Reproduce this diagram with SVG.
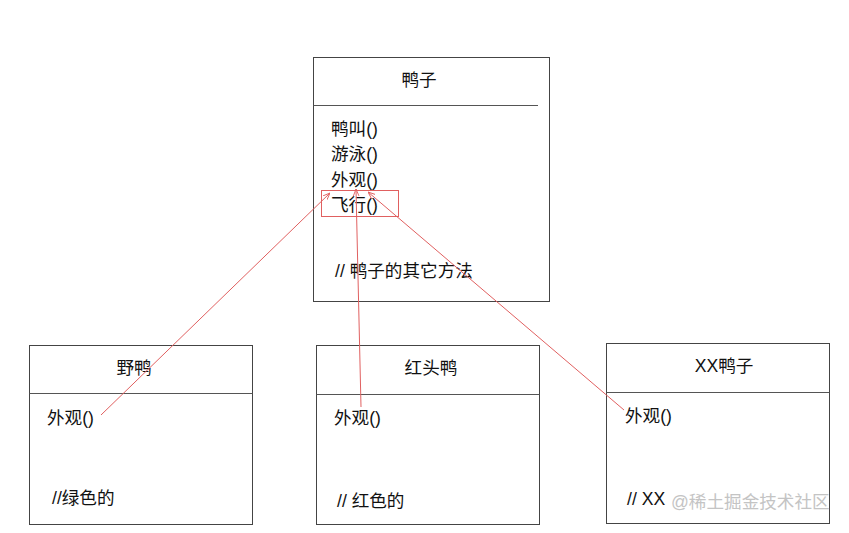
<svg xmlns="http://www.w3.org/2000/svg" width="849" height="533" viewBox="0 0 849 533">
<style>
.box{fill:#fff;stroke:#444;stroke-width:1}
.sep{stroke:#555;stroke-width:1}
.t{font-family:"Liberation Sans","Noto Sans CJK SC",sans-serif;font-size:17.6px;fill:#111}
.c{text-anchor:middle}
.conn{stroke:#e06060;stroke-width:1;fill:none;marker-end:url(#arr)}
.hl{fill:none;stroke:#e06060;stroke-width:1}
.wm{font-family:"Liberation Sans","Noto Sans CJK SC",sans-serif;font-size:17.6px;fill:#c4c4c4}
</style>
<defs>
<marker id="arr" viewBox="0 0 10 10" refX="10" refY="5" markerWidth="7" markerHeight="7" orient="auto" markerUnits="userSpaceOnUse">
<path d="M0,1 L10,5 L0,9" fill="none" stroke="#e06060" stroke-width="1.3"/>
</marker>
</defs>
<rect width="849" height="533" fill="#fff"/>
<g id="duck">
<rect class="box" x="313.5" y="57.5" width="236" height="244"/>
<line class="sep" x1="313.5" y1="105.5" x2="538" y2="105.5" stroke="#777"/>
<text class="t c" x="419" y="86">鸭子</text>
<text class="t" x="331" y="135">鸭叫()</text>
<text class="t" x="331" y="160">游泳()</text>
<text class="t" x="331" y="186">外观()</text>
<text class="t" x="331" y="211">飞行()</text>
<rect class="hl" x="321.5" y="190.5" width="77" height="26"/>
<text class="t" x="335" y="277">// 鸭子的其它方法</text>
</g>
<g id="wild-duck">
<rect class="box" x="29.5" y="345.5" width="223" height="179"/>
<line class="sep" x1="29.5" y1="393.5" x2="252.5" y2="393.5"/>
<text class="t c" x="134" y="374">野鸭</text>
<text class="t" x="47" y="424">外观()</text>
<text class="t" x="52" y="504">//绿色的</text>
</g>
<g id="red-head-duck">
<rect class="box" x="316.5" y="345.5" width="223" height="179"/>
<line class="sep" x1="316.5" y1="394.5" x2="539.5" y2="394.5"/>
<text class="t c" x="431" y="374">红头鸭</text>
<text class="t" x="334" y="424">外观()</text>
<text class="t" x="337" y="507">// 红色的</text>
</g>
<g id="xx-duck">
<rect class="box" x="606.5" y="343.5" width="223" height="180"/>
<line class="sep" x1="606.5" y1="392.5" x2="829.5" y2="392.5"/>
<text class="t c" x="724" y="372">XX鸭子</text>
<text class="t" x="625" y="422">外观()</text>
<text class="t" x="627" y="505">// XX</text>
</g>
<g id="connectors">
<line class="conn" x1="101" y1="415" x2="330" y2="193"/>
<line class="conn" x1="361" y1="407" x2="356" y2="189"/>
<line class="conn" x1="624" y1="410" x2="368" y2="192"/>
</g>
<text class="wm" x="671" y="508">@稀土掘金技术社区</text>
</svg>
